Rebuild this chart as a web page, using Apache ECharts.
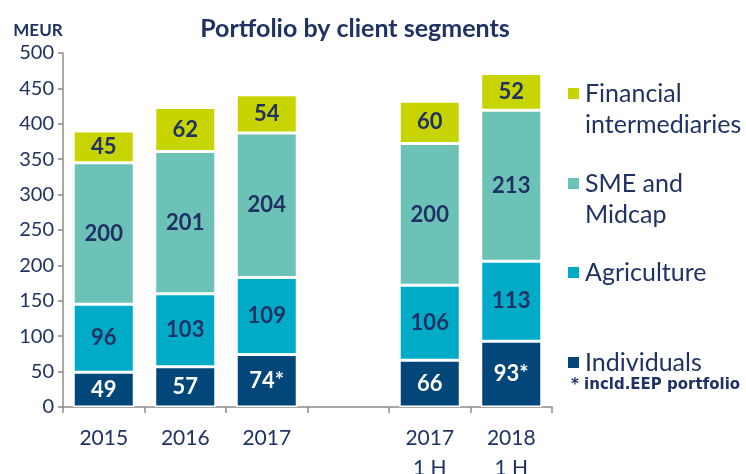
<!DOCTYPE html>
<html>
<head>
<meta charset="utf-8">
<script src="https://cdn.jsdelivr.net/npm/echarts@6/dist/echarts.min.js"></script>
<style>
  html, body { margin: 0; padding: 0; background: #fff; }
  #chart { width: 746px; height: 474px; }
</style>
</head>
<body>
<div id="chart"></div>
<script>
// categories (empty one is the gap between years and half-years)
const categories = ['2015', '2016', '2017', '', '2017\n1 H', '2018\n1 H']
const individuals = [49, 57, 74, '-', 66, 93]
const individualsNote = ['', '', '*', '', '', '*']
const agriculture = [96, 103, 109, '-', 106, 113]
const smeMidcap = [200, 201, 204, '-', 200, 213]
const financial = [45, 62, 54, '-', 60, 52]
const yTicks = { min: 0, max: 500, interval: 50 }

const navy = '#1f3263'
const font = 'Lato'

const chart = echarts.init(document.getElementById('chart'))

const barLabel = (color, notes) => ({
  show: true,
  position: 'inside',
  color: color,
  fontSize: 22,
  fontWeight: 'bold',
  fontFamily: font,
  formatter: p => p.value + (notes ? notes[p.dataIndex] : '')
})

const makeSeries = (name, data, color, labelColor, notes) => ({
  name: name,
  type: 'bar',
  stack: 'total',
  data: data,
  barWidth: 61,
  itemStyle: { color: color, borderColor: '#fff', borderWidth: 1.5 },
  label: barLabel(labelColor, notes)
})

const legendItem = (name, top, text) => ({
  orient: 'vertical',
  left: 561,
  top: top,
  data: [name],
  itemWidth: 13,
  itemHeight: 13,
  itemGap: 0,
  icon: 'rect',
  selectedMode: false,
  formatter: () => text,
  textStyle: { color: navy, fontSize: 25, fontFamily: font, lineHeight: 31 }
})

const option = {
  animation: false,
  title: {
    text: 'Portfolio by client segments',
    left: 350,
    top: 11,
    textAlign: 'center',
    textStyle: { color: navy, fontSize: 25, fontWeight: 'bold', fontFamily: font }
  },
  grid: { left: 63, right: 194, top: 53, bottom: 67, outerBoundsMode: 'none' },
  legend: [
    legendItem('Financial intermediaries', 42, '\nFinancial\nintermediaries'),
    legendItem('SME and Midcap', 132, '\nSME and\nMidcap'),
    legendItem('Agriculture', 252, 'Agriculture'),
    legendItem('Individuals', 342, 'Individuals')
  ],
  xAxis: {
    type: 'category',
    data: categories,
    axisLine: { lineStyle: { color: '#8c8c8c', width: 1.5 } },
    axisTick: { show: true, length: 6, lineStyle: { color: '#8c8c8c', width: 1.5 } },
    axisLabel: { color: navy, fontSize: 21, fontFamily: font, margin: 16, lineHeight: 30 }
  },
  yAxis: {
    type: 'value',
    min: yTicks.min,
    max: yTicks.max,
    interval: yTicks.interval,
    name: 'MEUR',
    nameLocation: 'end',
    nameGap: 14,
    nameTextStyle: { color: navy, fontSize: 17, fontWeight: 'bold', fontFamily: font, align: 'center', padding: [0, 50, 0, 0] },
    axisLine: { show: true, lineStyle: { color: '#8c8c8c', width: 1.5 } },
    axisTick: { show: true, length: 5, lineStyle: { color: '#8c8c8c', width: 1.5 } },
    splitLine: { show: false },
    axisLabel: { color: navy, fontSize: 20, fontFamily: font, margin: 9 }
  },
  series: [
    makeSeries('Individuals', individuals, '#03467a', '#ffffff', individualsNote),
    makeSeries('Agriculture', agriculture, '#00abc8', navy),
    makeSeries('SME and Midcap', smeMidcap, '#6cc2b7', navy),
    makeSeries('Financial intermediaries', financial, '#c8d400', navy)
  ],
  graphic: [
    {
      type: 'text',
      left: 571,
      top: 378,
      style: {
        text: '* incld.EEP portfolio',
        fill: navy,
        font: 'bold 15px "DejaVu Sans"'
      }
    }
  ]
}

chart.setOption(option)
window.addEventListener('resize', () => chart.resize())
</script>
</body>
</html>
